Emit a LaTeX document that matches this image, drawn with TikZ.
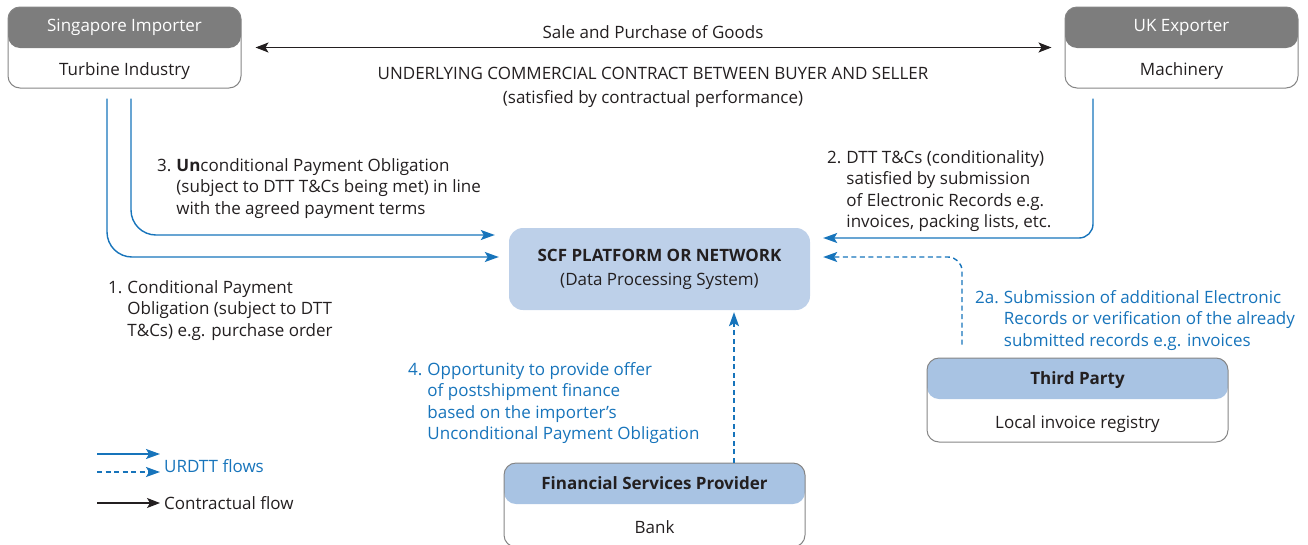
\documentclass[tikz,border=0pt]{standalone}
\usepackage{fontspec}
\setmainfont{Open Sans}
\usetikzlibrary{positioning}
\usetikzlibrary{arrows.meta}
\definecolor{inkdark}{HTML}{231F20}
\definecolor{hdgray}{HTML}{7D7D7D}
\definecolor{edgegray}{HTML}{858585}
\definecolor{hdblue}{HTML}{A8C3E3}
\definecolor{scfblue}{HTML}{BDD0E9}
\definecolor{flowblue}{HTML}{1774BB}
\tikzset{
every node/.style={
font=\fontsize{17}{21.5}\selectfont,
text=inkdark,
inner sep=0pt},
party/.style={
draw=edgegray,
line width=1pt,
rounded corners=12pt,
minimum width=233pt,
minimum height=81pt,
path picture={\fill[#1] (path picture bounding box.north west) rectangle ([yshift=-41pt]path picture bounding box.north east);}},
platform/.style={
fill=scfblue,
rounded corners=14pt,
minimum width=301pt,
minimum height=82pt,
align=center},
urdtt/.style={
draw=flowblue,
line width=1.4pt,
-{Stealth[length=14pt,width=10pt,inset=3pt]}},
urdttdash/.style={
urdtt,
dash pattern=on 5pt off 3.5pt},
contract/.style={
draw=inkdark,
line width=1.2pt,
-{Stealth[length=13pt,width=10pt,inset=3pt]}},
step label/.style={
anchor=base west},
note/.style={
step label,
text=flowblue}}

\begin{document}
\begin{tikzpicture}[x=1pt,y=-1pt]
\useasboundingbox (0,0) rectangle (1308,544);
% parties
\node[party=hdgray] (imp) at (124.5,47.5) {};
\node[party=hdgray] (exp) at (1181.5,47.5) {};
\node[party=hdblue, minimum width=301pt, minimum height=84pt] (tp) at (1077.5,400) {};
\node[party=hdblue, minimum width=301pt, minimum height=84pt] (fsp) at (654.5,505) {};
\node[anchor=base, text=white] (imphd) at (124.5,31) {Singapore Importer};
\node[anchor=base] (impbd) at (124.5,75) {Turbine Industry};
\node[anchor=base, text=white] (exphd) at (1181.5,31) {UK Exporter};
\node[anchor=base] (expbd) at (1181.5,75) {Machinery};
\node[anchor=base, font=\fontsize{17}{21.5}\selectfont\bfseries] (tphd) at (1077.5,384) {Third Party};
\node[anchor=base] (tpbd) at (1077.5,428) {Local invoice registry};
\node[anchor=base, font=\fontsize{17}{21.5}\selectfont\bfseries] (fsphd) at (654.5,489) {Financial Services Provider};
\node[anchor=base] (fspbd) at (654.5,533) {Bank};
% platform
\node[platform] (scf) at (659.5,269) {\textbf{SCF PLATFORM OR NETWORK}\\[2.5pt](Data Processing System)};
% contract between buyer and seller
\draw[contract, {Stealth[length=13pt,width=10pt,inset=3pt]}-{Stealth[length=13pt,width=10pt,inset=3pt]}, shorten <=14pt, shorten >=13pt] (imp) -- (exp)
node[midway, above=8pt] (sale) {Sale and Purchase of Goods}
node[midway, below=19pt, align=center] (under) {UNDERLYING COMMERCIAL CONTRACT BETWEEN BUYER AND SELLER\\[2.5pt](satisfied by contractual performance)};
% urdtt flows
\draw[urdtt, rounded corners=25pt] ([xshift=-17.5pt,yshift=-10pt]imp.south) |- ([xshift=-10pt,yshift=12pt]scf.west);
\draw[urdtt, rounded corners=25pt] ([xshift=6.5pt,yshift=-10pt]imp.south) |- ([xshift=-14pt,yshift=34pt]scf.west);
\draw[urdtt, rounded corners=14pt] ([xshift=-88.5pt,yshift=-10pt]exp.south) |- ([xshift=13pt,yshift=31pt]scf.east);
\draw[urdttdash, rounded corners=14pt] ([xshift=-115.5pt,yshift=13pt]tp.north) |- ([xshift=13pt,yshift=12pt]scf.east);
\draw[urdttdash, shorten >=2pt] ([xshift=79.5pt]fsp.north) -- ([xshift=79.5pt]fsp.north |- scf.south);
% step labels
\node[step label] (lab1) at (108,293) {\begin{tabular}[t]{@{}l@{\hspace{5pt}}l@{}}1. & Conditional Payment\\ & Obligation (subject to DTT\\ & T\&Cs) e.g. purchase order\end{tabular}};
\node[step label] (lab2) at (827,163) {\begin{tabular}[t]{@{}l@{\hspace{5pt}}l@{}}2. & DTT T\&Cs (conditionality)\\ & satisfied by submission\\ & of Electronic Records e.g.\\ & invoices, packing lists, etc.\end{tabular}};
\node[step label] (lab3) at (157,171) {\begin{tabular}[t]{@{}l@{\hspace{5pt}}l@{}}3. & \textbf{Un}conditional Payment Obligation\\ & (subject to DTT T\&Cs being met) in line\\ & with the agreed payment terms\end{tabular}};
\node[note] (lab2a) at (975,303) {\begin{tabular}[t]{@{}l@{\hspace{5pt}}l@{}}2a. & Submission of additional Electronic\\ & Records or verification of the already\\ & submitted records e.g. invoices\end{tabular}};
\node[note] (lab4) at (408,375) {\begin{tabular}[t]{@{}l@{\hspace{5pt}}l@{}}4. & Opportunity to provide offer\\ & of postshipment finance\\ & based on the importer's\\ & Unconditional Payment Obligation\end{tabular}};
% legend
\coordinate (k1a) at (97,454);
\coordinate (k1b) at (160,454);
\coordinate (k2a) at (97,472);
\coordinate (k2b) at (160,472);
\coordinate (k3a) at (97,503);
\coordinate (k3b) at (160,503);
\draw[urdtt] (k1a) -- (k1b);
\draw[urdttdash] (k2a) -- (k2b);
\draw[contract] (k3a) -- (k3b);
\node[anchor=west, text=flowblue] (keyurdtt) at (164,466) {URDTT flows};
\node[anchor=west] (keycontract) at (164,503) {Contractual flow};
\end{tikzpicture}
\end{document}
